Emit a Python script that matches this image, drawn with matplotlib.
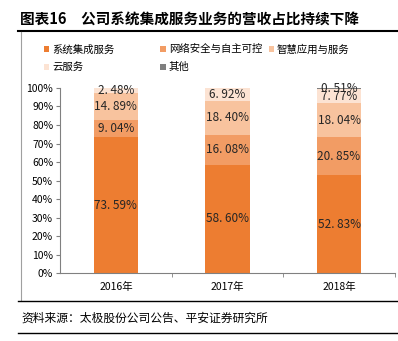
import numpy as np
import matplotlib.pyplot as plt
from matplotlib.patches import Patch
from matplotlib.lines import Line2D

plt.rcParams['font.family'] = ['Noto Sans CJK SC', 'DejaVu Sans']

years = ['2016年', '2017年', '2018年']
series = ['系统集成服务', '网络安全与自主可控', '智慧应用与服务', '云服务', '其他']
xitong = [73.59, 58.60, 52.83]
wangluo = [9.04, 16.08, 20.85]
zhihui = [14.89, 18.40, 18.04]
yun = [2.48, 6.92, 7.77]
qita = [0.0, 0.0, 0.51]
colors = ['#ED7D31', '#F29C64', '#F8C39E', '#FCE3D3', '#7F7F7F']

fig = plt.figure(figsize=(3.98, 3.41), dpi=100)
ax = fig.add_axes([0.151, 0.199, 0.841, 0.543])

x = np.arange(len(years))
bottom = np.zeros(len(years))
for name, vals, c in zip(series, [xitong, wangluo, zhihui, yun, qita], colors):
    vals = np.array(vals)
    ax.bar(x, vals, 0.4, bottom=bottom, color=c, label=name)
    for xi, b, v in zip(x, bottom, vals):
        if v > 0:
            txt = ('%.2f%%' % v).replace('.', '. ')
            ax.text(xi, b + v / 2 if v > 1 else b + v - 0.5, txt,
                    ha='center', va='center', fontsize=8.5, color='#262626')
    bottom += vals

ax.set_xlim(-0.5, 2.5)
ax.set_ylim(0, 100)
ax.set_yticks(np.arange(0, 101, 10))
ax.set_yticklabels(['%d%%' % v for v in range(0, 101, 10)], fontsize=7.5)
ax.set_xticks(x)
ax.set_xticklabels(years, fontsize=7.5)
ax.set_xticks([0.5, 1.5, 2.5], minor=True)
ax.tick_params(axis='x', which='major', length=0, pad=6)
ax.tick_params(axis='x', which='minor', length=3, color='#808080')
ax.tick_params(axis='y', length=3, color='#808080', pad=2)
for s in ['top', 'right']:
    ax.spines[s].set_visible(False)
for s in ['left', 'bottom']:
    ax.spines[s].set_color('#808080')
    ax.spines[s].set_linewidth(0.8)

handles = [Patch(facecolor=c, edgecolor='none') for c in colors]
legend_kw = dict(frameon=False, fontsize=7.5, handlelength=0.5, handleheight=0.5,
                 handletextpad=0.3, labelspacing=0.75, borderaxespad=0, borderpad=0)
fig.legend([handles[0], handles[3]], [series[0], series[3]], loc='upper left',
           bbox_to_anchor=(0.11, 0.87), **legend_kw)
fig.legend([handles[1], handles[4]], [series[1], series[4]], loc='upper left',
           bbox_to_anchor=(0.403, 0.87), **legend_kw)
fig.legend([handles[2]], [series[2]], loc='upper left',
           bbox_to_anchor=(0.675, 0.87), **legend_kw)

fig.text(0.05, 0.945, '图表16　公司系统集成服务业务的营收占比持续下降',
         fontsize=10.5, fontweight='bold', ha='left', va='center')
fig.add_artist(Line2D([0.045, 1.0], [0.91, 0.91], color='black', lw=1.5))
fig.add_artist(Line2D([0.053, 0.053], [0.12, 0.905], color='#A0A0A0', lw=0.8))
fig.add_artist(Line2D([0.045, 1.0], [0.117, 0.117], color='black', lw=1.0))
fig.text(0.055, 0.068, '资料来源：太极股份公司公告、平安证券研究所',
         fontsize=8.5, style='italic', ha='left', va='center')
fig.add_artist(Line2D([0.045, 1.0], [0.022, 0.022], color='black', lw=1.0))

fig.savefig('out.png', dpi=100)
